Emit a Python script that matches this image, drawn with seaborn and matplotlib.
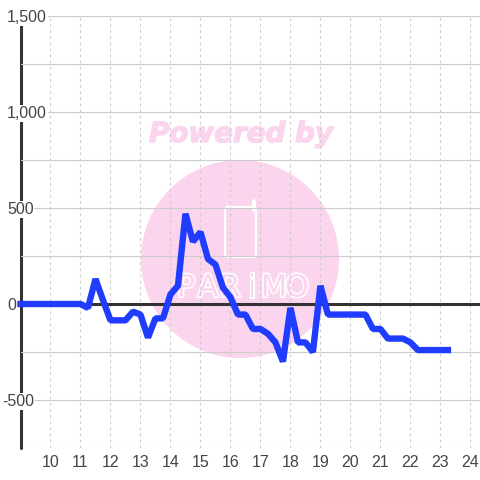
import matplotlib
matplotlib.use('Agg')
import matplotlib.pyplot as plt
import matplotlib.patheffects as pe
from matplotlib.patches import Circle, FancyBboxPatch
import seaborn as sns
import pandas as pd

sns.set_style('white')
plt.rcParams['font.family'] = ['Liberation Sans', 'DejaVu Sans']

# hourly data, one point every 15 minutes
hours = [9 + i * 0.25 for i in range(58)]
values = [0, 0, 0, 0, 0, 0, 0, 0, 0,
          -20, 130, 20, -85, -85, -85, -40, -55,
          -175, -75, -75, 50, 95, 470, 325, 375,
          235, 205, 85, 35, -55, -55, -130, -130,
          -155, -200, -300, -20, -200, -200, -250, 95,
          -55, -55, -55, -55, -55, -55, -130, -130,
          -180, -180, -180, -200, -240, -240, -240, -240,
          -240]
hour_ticks = list(range(10, 25))
y_ticks = [-750, -500, -250, 0, 250, 500, 750, 1000, 1250, 1500]
y_labels = ['', '-500', '', '0', '', '500', '', '1,000', '', '1,500']
df = pd.DataFrame({'hour': hours, 'value': values})

fig = plt.figure(figsize=(4.8, 4.8), dpi=100)

# watermark goes behind everything, in pixel coords
bg = fig.add_axes([0, 0, 1, 1], zorder=-1)
bg.set_xlim(0, 480)
bg.set_ylim(480, 0)
bg.axis('off')
pink = '#fbd5ee'
bg.add_patch(Circle((240, 259), 99, color=pink, lw=0))
bg.text(241, 134, 'Powered by', color=pink, fontsize=20, fontweight='bold', fontstyle='italic',
        family='DejaVu Sans', ha='center', va='center',
        path_effects=[pe.withStroke(linewidth=1, foreground=pink)])
bg.add_patch(FancyBboxPatch((225, 207), 31, 50, boxstyle='round,pad=0,rounding_size=3',
                            fc='none', ec='white', lw=1.6))
bg.plot([254, 254], [201, 210], color='white', lw=2.8, solid_capstyle='round')
for lx, ch in zip([186, 208, 230, 252, 274, 297], 'PARiMO'):
    bg.text(lx, 288, ch, color=pink, fontsize=22, family=['Liberation Sans Narrow', 'DejaVu Sans'],
            ha='center', va='center',
            path_effects=[pe.withStroke(linewidth=2.2, foreground='white')])

ax = fig.add_axes([20.5 / 480, 32 / 480, 459.5 / 480, 432 / 480])
ax.patch.set_alpha(0)
sns.despine(ax=ax, left=True, bottom=True)

ax.set_axisbelow(True)
ax.axvline(9, color='#333333', lw=2.2, zorder=0.4, clip_on=False)
ax.axhline(0, color='#333333', lw=2.2, zorder=2)
sns.lineplot(data=df, x='hour', y='value', ax=ax, color='#1f3cff', lw=4.6, zorder=3,
             solid_joinstyle='bevel', solid_capstyle='projecting', clip_on=False)

ax.set_xlim(9, 24.32)
ax.set_ylim(-750, 1500)
ax.set_xticks(hour_ticks)
ax.set_yticks(y_ticks)
ax.set_yticklabels(y_labels, ha='left', bbox=dict(fc='white', ec='none', pad=0.5))
ax.set_xlabel('')
ax.set_ylabel('')
ax.tick_params(axis='both', length=0, labelsize=11.5, labelcolor='#444444')
ax.tick_params(axis='x', pad=5)
ax.tick_params(axis='y', pad=9.7)
ax.grid(axis='y', color='#cccccc', lw=0.8)
ax.grid(axis='x', color='#cccccc', lw=0.8, linestyle=(0, (2.5, 3)))
ax.get_yticklabels()[1].set_x(-0.01)

fig.savefig('out.png', dpi=100)
